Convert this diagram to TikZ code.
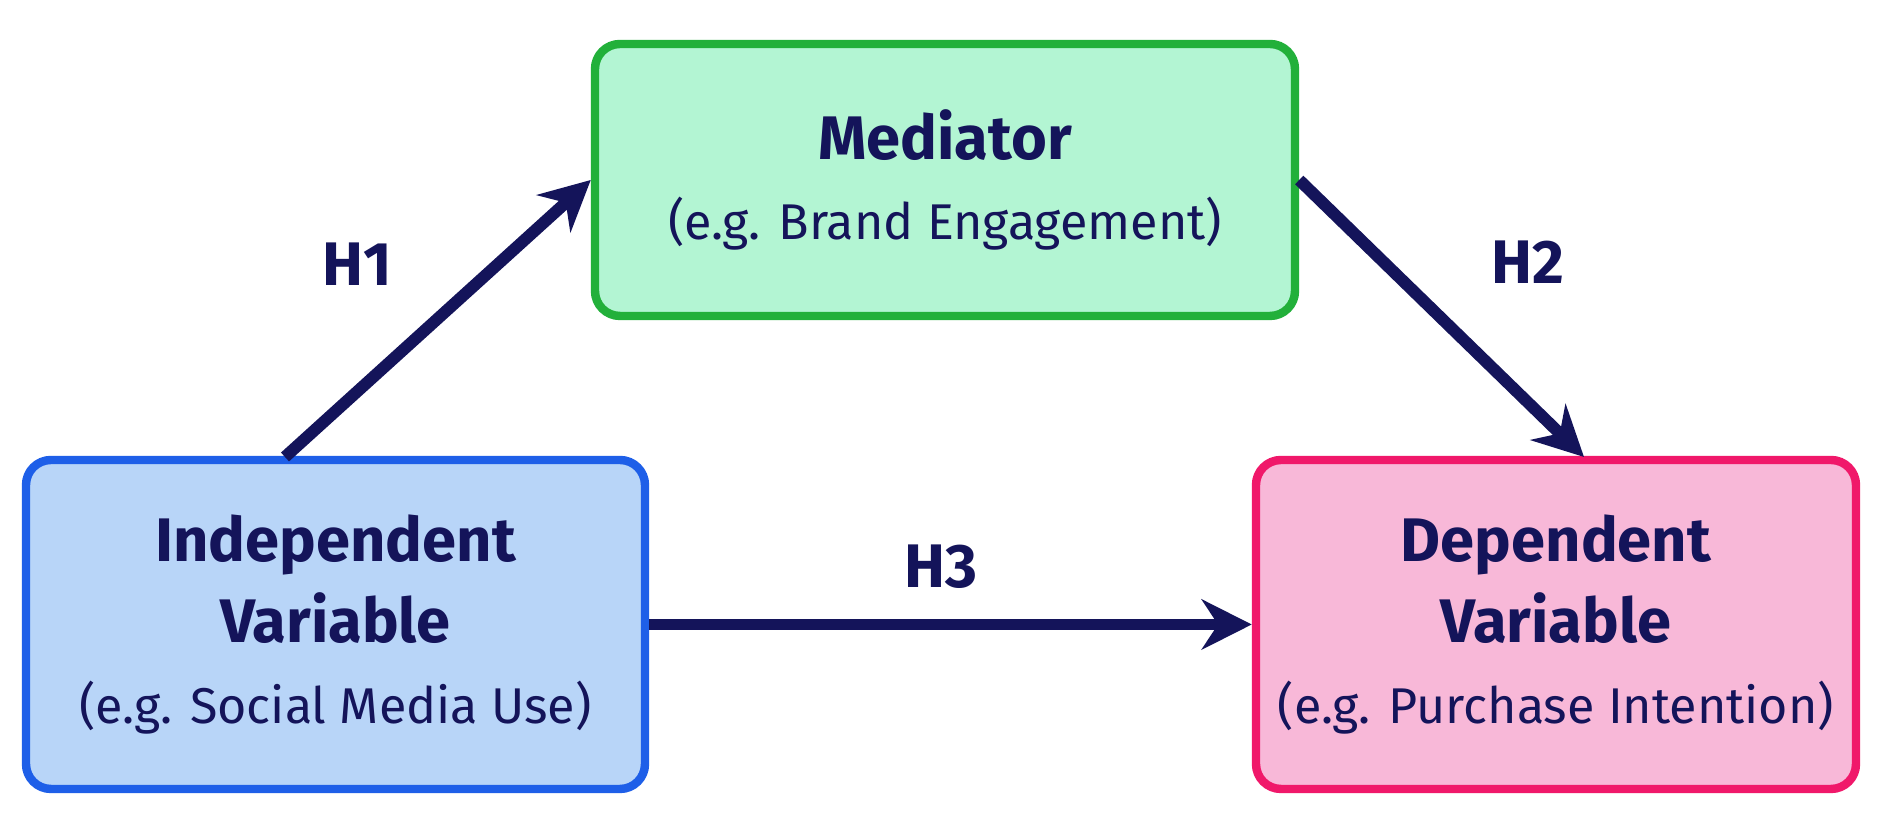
\documentclass[tikz,border=0pt]{standalone}
\usepackage{fontspec}
\setmainfont{Fira Sans}
\usetikzlibrary{positioning,arrows.meta,calc}
\definecolor{navy}{HTML}{14145A}
\definecolor{medfill}{HTML}{B3F5D3}
\definecolor{medline}{HTML}{22B03A}
\definecolor{indfill}{HTML}{B8D5F8}
\definecolor{indline}{HTML}{1E5FE8}
\definecolor{depfill}{HTML}{F8B8D8}
\definecolor{depline}{HTML}{F0186A}
\newcommand{\headfont}{\fontsize{17.5}{23}\selectfont\bfseries}
\newcommand{\subfont}{\fontsize{14.3}{23}\selectfont\mdseries}
\tikzset {
    var box/.style={
        rectangle, % Set the shape as a rectangle
        rounded corners=.25cm,
        line width=2.4pt,
        text=navy,
        align=center,
        inner sep=0pt,
        font=\fontsize{15}{23}\selectfont,
    },
    path arrow/.style={
        draw=navy,
        line width=3.4pt,
        -{Stealth[length=5mm,width=5mm]},
    },
    hyp label/.style={
        text=navy,
        font=\fontsize{17.5}{20}\selectfont\bfseries,
    },
}
\begin{document}
\begin{tikzpicture}
\useasboundingbox (0,0) rectangle (18.84,8.35);

\node [var box, fill=medfill, draw=medline, minimum width=7cm, minimum height=2.72cm] (med) at (9.45,6.55)
  {\headfont Mediator\\\subfont (e.g. Brand Engagement)};
\node [var box, fill=indfill, draw=indline, minimum width=6.19cm, minimum height=3.29cm] (ind) at (3.355,2.105)
  {\headfont Independent\\\headfont Variable\\\subfont (e.g. Social Media Use)};
\node [var box, fill=depfill, draw=depline, minimum width=6cm, minimum height=3.29cm] (dep) at (15.56,2.105)
  {\headfont Dependent\\\headfont Variable\\\subfont (e.g. Purchase Intention)};

\coordinate (h1start) at (2.85,3.78);
\coordinate (h2end) at (15.84,3.78);

\draw [path arrow] (h1start) -- (med.west);
\draw [path arrow] (med.east) -- (h2end);
\draw [path arrow] (ind.east) -- (dep.west);

\node [hyp label] (h1) at (3.57,5.71) {H1};
\node [hyp label] (h2) at (15.28,5.73) {H2};
\node [hyp label] (h3) at (9.41,2.68) {H3};
\end{tikzpicture}
\end{document}
